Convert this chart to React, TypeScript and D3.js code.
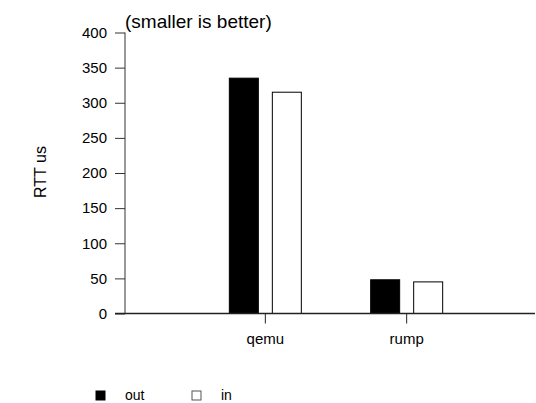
import { useEffect, useRef } from "react"
import * as d3 from "d3"

// values
const categories = ["qemu", "rump"]
const seriesNames = ["out", "in"]
const outValues = [335, 48]
const inValues = [315, 45]
const yTicks = [0, 50, 100, 150, 200, 250, 300, 350, 400]
const seriesFill = ["#000000", "#ffffff"]

export default function App() {
  const svgRef = useRef<SVGSVGElement>(null)

  useEffect(() => {
    if (!svgRef.current) return
    const svg = d3.select(svgRef.current)
    svg.selectAll("*").remove()

    const font = "'Liberation Sans', Arial, Helvetica, sans-serif"
    const left = 125
    const right = 535
    const top = 32.5
    const bottom = 313.5

    // x: categories sit on slots 1 and 2 of a 0..3 range
    const x = d3.scaleLinear().domain([0, 3]).range([124, 548])
    const y = d3.scaleLinear().domain([0, 400]).range([bottom, top])

    const barWidth = 29
    const offset = 21.5

    const rows = categories.map((c, i) => ({ cat: c, i, vals: [outValues[i], inValues[i]] }))

    const g = svg.append("g")

    rows.forEach((r) => {
      r.vals.forEach((v, s) => {
        const cx = x(r.i + 1) + (s === 0 ? -offset : offset)
        g.append("rect")
          .attr("x", cx - barWidth / 2)
          .attr("y", y(v))
          .attr("width", barWidth)
          .attr("height", y(0) - y(v))
          .attr("fill", seriesFill[s])
          .attr("stroke", "#000")
          .attr("stroke-width", 1)
      })
    })

    // y axis
    const yAxis = d3.axisLeft(y).tickValues(yTicks).tickSize(10).tickPadding(8)
    const ya = g.append("g").attr("transform", `translate(${left},0)`).call(yAxis)
    ya.select(".domain").attr("d", `M0,${top}V${bottom}`).attr("stroke", "#333")
    ya.selectAll("line").attr("stroke", "#333")
    ya.selectAll("text").style("font-family", font).style("font-size", "15px").attr("fill", "#000")

    // x baseline
    g.append("line")
      .attr("x1", 115)
      .attr("x2", right)
      .attr("y1", bottom)
      .attr("y2", bottom)
      .attr("stroke", "#222")
      .attr("stroke-width", 1.3)

    // x ticks + labels
    categories.forEach((c, i) => {
      g.append("line")
        .attr("x1", x(i + 1))
        .attr("x2", x(i + 1))
        .attr("y1", bottom)
        .attr("y2", bottom + 10)
        .attr("stroke", "#222")
      g.append("text")
        .attr("x", x(i + 1))
        .attr("y", bottom + 30)
        .attr("text-anchor", "middle")
        .style("font-family", font)
        .style("font-size", "15px")
        .text(c)
    })

    // title
    g.append("text")
      .attr("x", 125)
      .attr("y", 28)
      .style("font-family", font)
      .style("font-size", "19px")
      .text("(smaller is better)")

    // y label
    g.append("text")
      .attr("transform", `translate(46,172) rotate(-90)`)
      .attr("text-anchor", "middle")
      .style("font-family", font)
      .style("font-size", "16px")
      .text("RTT us")

    // legend
    const legendX = [96, 192]
    seriesNames.forEach((n, s) => {
      g.append("rect")
        .attr("x", legendX[s])
        .attr("y", 391)
        .attr("width", 9)
        .attr("height", 9)
        .attr("fill", seriesFill[s])
        .attr("stroke", s === 0 ? "#000" : "#555")
      g.append("text")
        .attr("x", legendX[s] + 29)
        .attr("y", 400)
        .style("font-family", font)
        .style("font-size", "14px")
        .text(n)
    })
  }, [])

  return (
    <svg
      ref={svgRef}
      width={536}
      height={403}
      style={{ position: "absolute", left: 0, top: 0, background: "#fff" }}
    ></svg>
  )
}
